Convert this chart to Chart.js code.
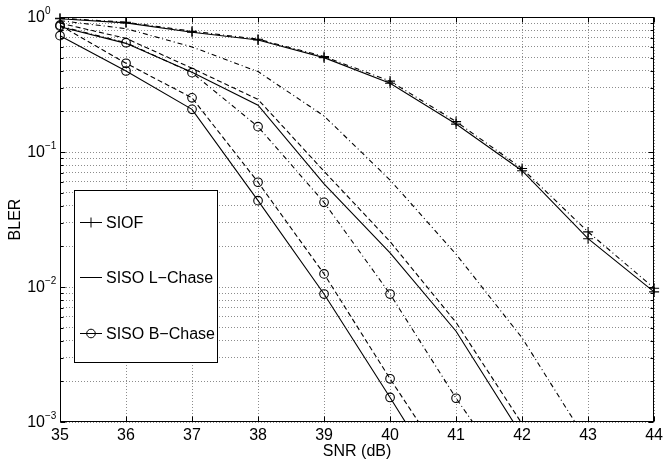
<!DOCTYPE html>
<html>
<head>
<meta charset="utf-8">
<script src="https://cdn.jsdelivr.net/npm/chart.js@4.4.0/dist/chart.umd.min.js"></script>
<style>
  body { margin: 0; background: #fff; }
</style>
</head>
<body>
<canvas id="bler" width="667" height="461"></canvas>
<script>
// x values (SNR in dB)
const snr = [35, 36, 37, 38, 39, 40, 41, 42, 43, 44];

// BLER, null once a curve has left the axes
const siofSolid  = [0.97, 0.905, 0.77, 0.675, 0.50, 0.323, 0.161, 0.0727, 0.0228, 0.0092];
const siofDashed = [0.98, 0.915, 0.785, 0.685, 0.51, 0.335, 0.168, 0.0755, 0.0256, 0.0098];
const lSolid     = [0.848, 0.638, 0.39, 0.222, 0.058, 0.0179, 0.0047, 0.00079, null, null];
const lDashed    = [0.90, 0.695, 0.417, 0.245, 0.072, 0.0217, 0.00546, 0.00097, null, null];
const lDashDot   = [0.94, 0.82, 0.60, 0.394, 0.185, 0.062, 0.0175, 0.0042, 0.0007, null];
const bSolid     = [0.727, 0.398, 0.207, 0.0436, 0.00887, 0.00152, 0.00025, null, null, null];
const bDashed    = [0.87, 0.454, 0.252, 0.0597, 0.0125, 0.00209, 0.00038, null, null, null];
const bDashDot   = [0.855, 0.645, 0.387, 0.154, 0.0424, 0.00887, 0.0015, 0.0003, null, null];

// y axis decades and their exponent labels
const yDecades = [0.001, 0.01, 0.1, 1];
const yExponents = ['\u22123', '\u22122', '\u22121', '0'];
const minorSteps = [2, 3, 4, 5, 6, 7, 8, 9];

const legendLabels = ['SIOF', 'SISO L\u2212Chase', 'SISO B\u2212Chase'];
const legendMarkers = ['cross', 'none', 'circle'];

const DASHED = [5, 3];
const DASHDOT = [5, 3, 1, 3];
const FONT = '"Liberation Sans", Arial, Helvetica, sans-serif';

Chart.defaults.font.family = FONT;
Chart.defaults.color = '#000';

// one line per curve
function curve(values, dash, marker) {
    let radius = 0;
    if (marker == 'cross') radius = 5;
    if (marker == 'circle') radius = 4.3;
    return {
        data: snr.map((x, i) => ({ x: x, y: values[i] })).filter(p => p.y !== null),
        borderColor: '#000',
        borderWidth: 1.1,
        borderDash: dash,
        pointStyle: marker == 'none' ? 'circle' : marker,
        pointRadius: radius,
        pointHoverRadius: radius,
        pointBorderColor: '#000',
        pointBackgroundColor: 'rgba(0,0,0,0)',
        pointBorderWidth: 1.1,
        tension: 0,
        fill: false,
        clip: { left: 10, top: 10, right: 10, bottom: 0 }
    };
}

// y tick list: decades plus 2..9 in between
function yTickValues() {
    const list = [];
    for (let i = 0; i < yDecades.length; i++) {
        list.push({ value: yDecades[i] });
        if (i < yDecades.length - 1) {
            for (let j = 0; j < minorSteps.length; j++) {
                list.push({ value: yDecades[i] * minorSteps[j] });
            }
        }
    }
    return list;
}

// box, inward ticks, y labels with exponents and the legend
const matlabLook = {
    id: 'matlabLook',
    afterDraw(chart) {
        const ctx = chart.ctx;
        const a = chart.chartArea;
        const xs = chart.scales.x;
        const ys = chart.scales.y;
        const L = Math.round(a.left) + 0.5;
        const R = Math.round(a.right) - 0.5;
        const T = Math.round(a.top) + 0.5;
        const B = Math.round(a.bottom) - 0.5;

        ctx.save();
        ctx.strokeStyle = '#000';
        ctx.lineWidth = 1;
        ctx.setLineDash([]);
        ctx.strokeRect(L, T, R - L, B - T);

        // x ticks
        ctx.beginPath();
        for (let i = 0; i < snr.length; i++) {
            const px = Math.round(xs.getPixelForValue(snr[i])) + 0.5;
            ctx.moveTo(px, B); ctx.lineTo(px, B - 5);
            ctx.moveTo(px, T); ctx.lineTo(px, T + 5);
        }
        // y ticks
        const ticks = yTickValues();
        for (let i = 0; i < ticks.length; i++) {
            const py = Math.round(ys.getPixelForValue(ticks[i].value)) + 0.5;
            const len = yDecades.includes(ticks[i].value) ? 5 : 3;
            ctx.moveTo(L, py); ctx.lineTo(L + len, py);
            ctx.moveTo(R, py); ctx.lineTo(R - len, py);
        }
        ctx.stroke();

        // y labels 10^n
        ctx.fillStyle = '#000';
        for (let i = 0; i < yDecades.length; i++) {
            const py = ys.getPixelForValue(yDecades[i]);
            ctx.font = '16px ' + FONT;
            ctx.textAlign = 'right';
            ctx.textBaseline = 'middle';
            ctx.fillText('10', 45, py + 1);
            ctx.font = '10px ' + FONT;
            ctx.textAlign = 'left';
            ctx.fillText(yExponents[i], 45, py - 6);
        }

        // legend
        const bx = 74.5, by = 190.5, bw = 143, bh = 172;
        ctx.fillStyle = '#fff';
        ctx.fillRect(bx, by, bw, bh);
        ctx.strokeRect(bx, by, bw, bh);
        for (let i = 0; i < legendLabels.length; i++) {
            const ly = Math.round(by + 31 + i * 55.5) + 0.5;
            ctx.beginPath();
            ctx.moveTo(80, ly); ctx.lineTo(102, ly);
            if (legendMarkers[i] == 'cross') {
                ctx.moveTo(86, ly); ctx.lineTo(96, ly);
                ctx.moveTo(91, ly - 5); ctx.lineTo(91, ly + 5);
            }
            ctx.stroke();
            if (legendMarkers[i] == 'circle') {
                ctx.beginPath();
                ctx.arc(91, ly, 4.3, 0, Math.PI * 2);
                ctx.stroke();
            }
            ctx.fillStyle = '#000';
            ctx.font = '16px ' + FONT;
            ctx.textAlign = 'left';
            ctx.textBaseline = 'middle';
            ctx.fillText(legendLabels[i], 106, ly + 1);
        }
        ctx.restore();
    }
};

new Chart(document.getElementById('bler'), {
    type: 'line',
    data: {
        datasets: [
            curve(siofSolid, [], 'cross'),
            curve(siofDashed, DASHDOT, 'cross'),
            curve(lSolid, [], 'none'),
            curve(lDashed, DASHED, 'none'),
            curve(lDashDot, DASHDOT, 'none'),
            curve(bSolid, [], 'circle'),
            curve(bDashed, DASHED, 'circle'),
            curve(bDashDot, DASHDOT, 'circle')
        ]
    },
    options: {
        responsive: false,
        animation: false,
        events: [],
        layout: { padding: { top: 17, right: 8, left: 0, bottom: 0 } },
        plugins: {
            legend: { display: false },
            tooltip: { enabled: false }
        },
        scales: {
            x: {
                type: 'linear',
                min: 35,
                max: 44,
                afterFit: s => { s.height = 39; },
                ticks: { stepSize: 1, font: { size: 16 }, color: '#000', padding: 4 },
                grid: { color: 'rgba(0,0,0,0.45)', drawTicks: false },
                border: { display: false, dash: [1, 2] },
                title: { display: true, text: 'SNR (dB)', font: { size: 16 }, color: '#000', padding: { top: 0, bottom: 0 } }
            },
            y: {
                type: 'logarithmic',
                min: 0.001,
                max: 1,
                afterFit: s => { s.width = 60; },
                afterBuildTicks: s => { s.ticks = yTickValues(); },
                ticks: { display: false },
                grid: { color: 'rgba(0,0,0,0.45)', drawTicks: false },
                border: { display: false, dash: [1, 2] },
                title: { display: true, text: 'BLER', font: { size: 16 }, color: '#000', padding: { top: 6, bottom: 0 } }
            }
        }
    },
    plugins: [matlabLook]
});
</script>
</body>
</html>
